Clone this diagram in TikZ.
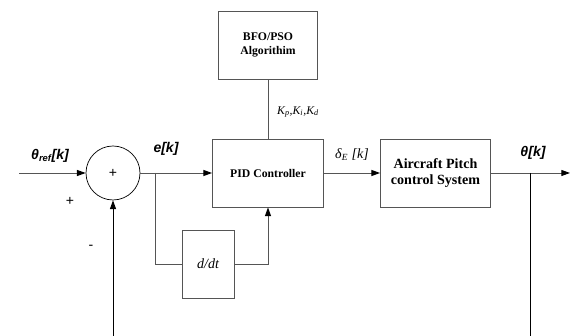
\documentclass[tikz,border=0pt]{standalone}
\usepackage{fontspec}
\setmainfont{Liberation Serif}
\setsansfont{Liberation Sans}
\usepackage{tikz}
\usetikzlibrary{arrows.meta, positioning, calc}
\definecolor{LineGray}{RGB}{85, 85, 85}

\begin{document}
\begin{tikzpicture}[font=\bfseries,
    blockbox/.style={draw=LineGray, line width=0.7pt, minimum height=2.04cm, align=center},
    sumnode/.style={draw=black, line width=0.6pt, circle, minimum size=1.62cm, inner sep=0pt},
    sig/.style={draw=LineGray, line width=0.8pt},
    sigarrow/.style={sig, -{Triangle[length=2.6mm, width=1.8mm, color=black]}},
    siglabel/.style={font=\sffamily\bfseries\itshape\large}]
    \useasboundingbox (0,0) rectangle (17.19,10.08);

    % 方框与求和点
    \node[sumnode, font=\sffamily\large] (sum) at (3.39, 4.89) {+};
    \node[blockbox, minimum width=3.33cm] (pid) at (8.04, 4.89) {PID Controller};
    \node[blockbox, minimum width=2.97cm] (bfo) at (8.04, 8.73) {BFO/PSO\\Algorithim};
    \node[blockbox, minimum width=3.30cm, font=\bfseries\large] (plant) at (13.065, 4.89) {Aircraft Pitch\\control System};
    \node[blockbox, minimum width=1.56cm, font=\itshape\large] (ddt) at (6.24, 2.16) {d/dt};

    % 辅助坐标
    \coordinate (in) at (0.57, 4.89);
    \coordinate (out) at (17.1, 4.89);
    \coordinate (ebranch) at (4.65, 4.89);
    \coordinate (obranch) at (15.9, 4.89);
    \coordinate (fbend) at (15.9, 0);
    \coordinate (fbstart) at (3.39, 0);

    % 信号线
    \draw[sigarrow] (in) -- (sum);
    \draw[sigarrow] (sum) -- (pid);
    \draw[sig] (ebranch) |- (ddt);
    \draw[sigarrow] (ddt) -| (pid);
    \draw[sig] (bfo) -- (pid);
    \draw[sigarrow] (pid) -- (plant);
    \draw[sigarrow] (plant) -- (out);
    \draw[draw=black, line width=0.8pt] (obranch) -- (fbend);
    \draw[draw=black, line width=0.8pt, -{Triangle[length=2.6mm, width=1.8mm]}] (fbstart) -- (sum);

    % 标注
    \node[siglabel] (thetaref) at (1.5, 5.4) {θ\textsubscript{ref}[k]};
    \node[siglabel] (ek) at (4.98, 5.6) {e[k]};
    \node[font=\itshape\large, inner sep=0pt] (deltae) at (10.56, 5.45) {δ\textsubscript{E} [k]};
    \node[siglabel] (thetak) at (15.99, 5.5) {θ[k]};
    \node[font=\itshape, inner sep=0pt] (gains) at (8.94, 6.72) {K\textsubscript{p},K\textsubscript{i},K\textsubscript{d}};
    \node[font=\sffamily\large] (plus) at (2.1, 4.05) {+};
    \node[font=\sffamily\large] (minus) at (2.73, 2.67) {-};
\end{tikzpicture}
\end{document}
